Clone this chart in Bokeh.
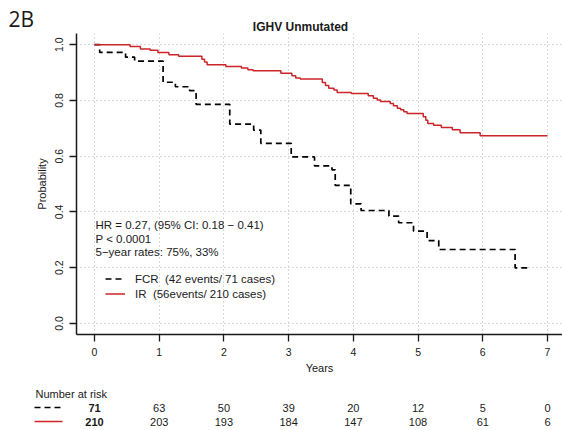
from bokeh.plotting import figure
from bokeh.layouts import column
from bokeh.models import (Range1d, FixedTicker, PrintfTickFormatter, Label,
                          Legend, LegendItem, ColumnDataSource)
from bokeh.core.properties import value
from bokeh.embed import file_html
from bokeh.resources import INLINE

# ---------------- data ----------------
year_ticks = [0, 1, 2, 3, 4, 5, 6, 7]
prob_ticks = [0.0, 0.2, 0.4, 0.6, 0.8, 1.0]

fcr_time = [0, 0.08, 0.48, 0.62, 1.06, 1.25, 1.47, 1.57, 2.09, 2.46, 2.57, 3.04,
            3.40, 3.67, 3.72, 3.96, 4.12, 4.55, 4.70, 4.93, 5.14, 5.32, 6.50, 6.72]
fcr_surv = [1.0, 0.972, 0.955, 0.941, 0.865, 0.849, 0.835, 0.786, 0.715, 0.693, 0.646, 0.597,
            0.565, 0.551, 0.495, 0.429, 0.405, 0.385, 0.361, 0.331, 0.297, 0.265, 0.199, 0.199]

ir_time = [0, 0.55, 0.71, 0.86, 0.98, 1.15, 1.30, 1.66, 1.70, 1.74, 2.03, 2.27, 2.37, 2.45,
           2.88, 3.05, 3.11, 3.18, 3.52, 3.57, 3.62, 3.70, 3.75, 3.97, 4.23, 4.31, 4.37, 4.42,
           4.57, 4.62, 4.68, 4.73, 4.78, 4.83, 5.08, 5.12, 5.15, 5.24, 5.36, 5.53, 5.65, 5.96, 7.0]
ir_surv = [1.0, 0.993, 0.984, 0.980, 0.972, 0.964, 0.958, 0.948, 0.938, 0.928, 0.922, 0.916,
           0.910, 0.906, 0.897, 0.888, 0.880, 0.877, 0.864, 0.853, 0.844, 0.837, 0.828, 0.825,
           0.817, 0.808, 0.801, 0.796, 0.789, 0.781, 0.772, 0.766, 0.759, 0.753, 0.741, 0.729,
           0.717, 0.711, 0.703, 0.695, 0.684, 0.673, 0.673]

fcr_risk = [71, 63, 50, 39, 20, 12, 5, 0]
ir_risk = [210, 203, 193, 184, 147, 108, 61, 6]

title_text = "IGHV Unmutated"
panel_text = "2B"
fcr_label = "FCR\u00a0\u00a0(42 events/ 71 cases)"
ir_label = "IR\u00a0\u00a0(56events/ 210 cases)"
stats_lines = ["HR = 0.27, (95% CI: 0.18 \u2212 0.41)", "P < 0.0001", "5\u2212year rates: 75%, 33%"]
risk_header = "Number at risk"

# ---------------- layout constants ----------------
FONT = "Liberation Sans"
TXT = "#1a1a1a"
RED = "#cc2529"
W = 562
HEADER_H = 33
PX_PER_YEAR = 64.71
X0_PX = 94.0
FRAME_L = 76
PX_PER_UNIT = 278.7


def ydat(ypix):
    # page pixel row -> probability (frame top at page y = HEADER_H)
    return 1.04 - (ypix - HEADER_H) / PX_PER_UNIT


def xdat(xpix):
    return (xpix - X0_PX) / PX_PER_YEAR


# ---------------- header (panel tag + title) ----------------
h = figure(width=W, height=HEADER_H, x_range=Range1d(0, W), y_range=Range1d(HEADER_H, 0),
           output_backend="svg", toolbar_location=None,
           x_axis_location=None, y_axis_location=None, min_border=0)
h.outline_line_color = None
h.grid.visible = False
h.frame_align = False
h.text(x=[8], y=[18.5], text=[panel_text], text_font=value("Open Sans"),
       text_font_size="21px", text_color=TXT, text_align="left", text_baseline="middle")
h.text(x=[300], y=[26], text=[title_text], text_font=value(FONT),
       text_font_size="12px", text_font_style="bold", text_color=TXT,
       text_align="center", text_baseline="middle")

# ---------------- main KM plot ----------------
p = figure(width=W, height=380 - HEADER_H,
           x_range=Range1d(xdat(FRAME_L), xdat(W)), y_range=Range1d(-0.04, 1.04),
           output_backend="svg", toolbar_location=None,
           min_border_left=FRAME_L, min_border_right=0, min_border_top=0,
           min_border_bottom=46)
p.outline_line_color = None
p.background_fill_color = "white"
p.frame_align = False

p.xaxis.ticker = FixedTicker(ticks=year_ticks)
p.yaxis.ticker = FixedTicker(ticks=prob_ticks)
p.yaxis.formatter = PrintfTickFormatter(format="%.1f")
p.yaxis.major_label_orientation = "vertical"
for ax in (p.xaxis, p.yaxis):
    ax.axis_line_color = TXT
    ax.axis_line_width = 1.5
    ax.major_tick_line_color = TXT
    ax.major_tick_line_width = 1.3
    ax.major_tick_out = 7
    ax.major_tick_in = 0
    ax.minor_tick_line_color = None
    ax.major_label_text_font = FONT
    ax.major_label_text_font_size = "10.5px"
    ax.major_label_text_color = TXT
    ax.axis_label_text_font = FONT
    ax.axis_label_text_font_size = "11px"
    ax.axis_label_text_font_style = "normal"
    ax.axis_label_text_color = TXT
p.xaxis.axis_label = "Years"
p.yaxis.axis_label = "Probability"
p.xaxis.major_label_standoff = 6
p.yaxis.major_label_standoff = 6
p.xaxis.axis_label_standoff = 3
p.yaxis.axis_label_standoff = 5

p.grid.grid_line_color = "#b4b4b4"
p.grid.grid_line_dash = "1 3"
p.grid.grid_line_width = 1

r_fcr = p.step(fcr_time, fcr_surv, mode="after", line_color="black",
               line_width=1.7, line_dash="6 4")
r_ir = p.step(ir_time, ir_surv, mode="after", line_color=RED, line_width=1.5)

legend = Legend(items=[LegendItem(label=fcr_label, renderers=[r_fcr]),
                       LegendItem(label=ir_label, renderers=[r_ir])],
                location=(29, 33))
legend.padding = 0
legend.margin = 0
legend.spacing = 0
legend.glyph_width = 20
legend.glyph_height = 15
legend.label_height = 15
legend.label_standoff = 10
legend.label_text_font = FONT
legend.label_text_font_size = "11.5px"
legend.label_text_color = TXT
legend.background_fill_alpha = 0
legend.border_line_alpha = 0
p.add_layout(legend)

for txt, ypix in zip(stats_lines, [224, 238.5, 251]):
    p.add_layout(Label(x=xdat(95), y=ydat(ypix), text=txt, text_font=FONT,
                       text_font_size="11.5px", text_color=TXT,
                       text_align="left", text_baseline="middle"))

# ---------------- number at risk table ----------------
t = figure(width=W, height=50, x_range=Range1d(xdat(0), xdat(W)),
           y_range=Range1d(430, 380), output_backend="svg", toolbar_location=None,
           x_axis_location=None, y_axis_location=None, min_border=0)
t.outline_line_color = None
t.grid.visible = False
t.frame_align = False

ROW1, ROW2, HEAD = 407, 421, 393
t.text(x=[xdat(35)], y=[HEAD], text=[risk_header], text_font=value(FONT),
       text_font_size="11px", text_color=TXT, text_align="left", text_baseline="middle")

src1 = ColumnDataSource(dict(x=year_ticks[1:], y=[ROW1] * 7, t=[str(v) for v in fcr_risk[1:]]))
src2 = ColumnDataSource(dict(x=year_ticks[1:], y=[ROW2] * 7, t=[str(v) for v in ir_risk[1:]]))
for src in (src1, src2):
    t.text(x="x", y="y", text="t", source=src, text_font=value(FONT),
           text_font_size="11px", text_color=TXT, text_align="center", text_baseline="middle")
t.text(x=[year_ticks[0], year_ticks[0]], y=[ROW1, ROW2], text=[str(fcr_risk[0]), str(ir_risk[0])],
       text_font=value(FONT), text_font_size="11px", text_font_style="bold", text_color=TXT,
       text_align="center", text_baseline="middle")
t.line([xdat(34), xdat(62)], [ROW1, ROW1], line_color="black", line_width=1.7, line_dash="6 4")
t.line([xdat(34), xdat(62)], [ROW2, ROW2], line_color=RED, line_width=1.5)

layout = column(h, p, t, spacing=0)
open("out.html", "w").write(file_html(layout, INLINE))
